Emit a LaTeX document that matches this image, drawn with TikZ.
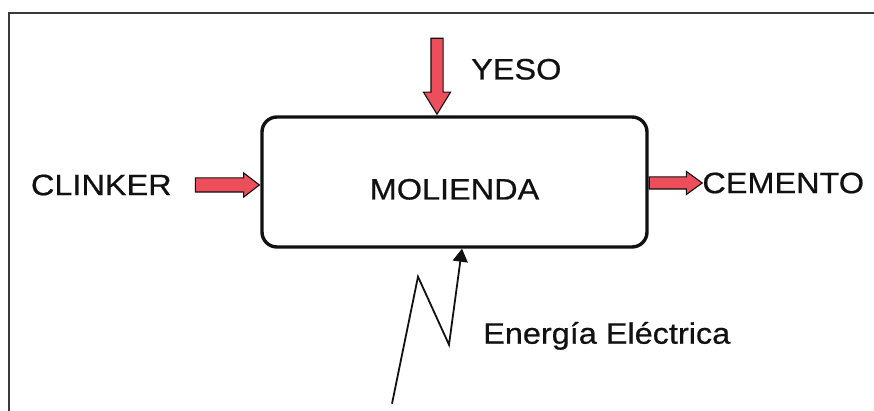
\documentclass[tikz,border=0pt]{standalone}
\usepackage{fontspec}
\setmainfont{Liberation Sans}[FakeStretch=1.1,FakeBold=0.6]
\usetikzlibrary{arrows.meta,positioning,calc,shapes.arrows}
\definecolor{ink}{HTML}{111111}
\definecolor{framecol}{HTML}{3A3A3A}
\definecolor{flowfill}{HTML}{EC4F5B}

\begin{document}
\begin{tikzpicture}[
  x=1pt, y=1pt,
  procbox/.style={
    draw=ink, line width=3.4pt, rounded corners=15pt,
    minimum width=385pt, minimum height=130pt,
    inner sep=0pt, text=ink, font=\fontsize{29.5}{34}\selectfont
  },
  fatarr/.style={single arrow, draw=ink, line width=1.1pt, fill=flowfill,
    inner sep=0pt, text width=0pt},
  lab/.style={font=\fontsize{29.5}{34}\selectfont, text=ink, inner sep=0pt},
  bolt/.style={-{Triangle[length=13pt,width=15pt]}, line width=1.8pt, draw=ink}
]
\useasboundingbox (0,0) rectangle (874,411);

%% ---------- frame ----------
\draw[framecol, line width=2pt] (880,398) -- (9,398) -- (9,-5);

%% ---------- process ----------
\node[procbox, text height=35pt, text depth=0pt] (mol) at (454.5,229) {MOLIENDA};

%% ---------- inputs ----------
\node[fatarr, minimum height=64pt, text height=6.5pt, text depth=6.5pt,
      single arrow head extend=5pt, single arrow tip angle=75, anchor=tip]
  (clkarr) at ($(mol.west)+(0,-3)$) {};
\node[lab, left=23pt of clkarr.tail] (clk) {CLINKER};

\node[fatarr, minimum height=76pt, text height=5.5pt, text depth=5.5pt, rotate=-90,
      single arrow head extend=7.5pt, single arrow tip angle=63, anchor=tip]
  (yesarr) at ($(mol.north)+(-17.5,0)$) {};
\node[lab, anchor=west] (yes) at ($(mol.north)+(16.5,46)$) {YESO};

%% ---------- output ----------
\node[fatarr, minimum height=53pt, text height=5.5pt, text depth=5.5pt,
      single arrow head extend=5.5pt, single arrow tip angle=72, anchor=tail]
  (cemarr) at ($(mol.east)+(0,-1)$) {};
\node[lab, right=-1pt of cemarr.tip] (cem) {CEMENTO};

%% ---------- electric energy ----------
\coordinate (boltA) at ($(mol.south)+(-62.5,-155)$);
\coordinate (boltB) at ($(mol.south)+(-36.5,-28)$);
\coordinate (boltC) at ($(mol.south)+(-5.5,-96)$);
\coordinate (boltD) at ($(mol.south)+(7.5,0)$);
\draw[bolt] (boltA) -- (boltB) -- (boltC) -- (boltD);
\node[lab, anchor=base west] (elec) at ($(mol.south)+(28.5,-95)$) {Energía Eléctrica};

\end{tikzpicture}
\end{document}
